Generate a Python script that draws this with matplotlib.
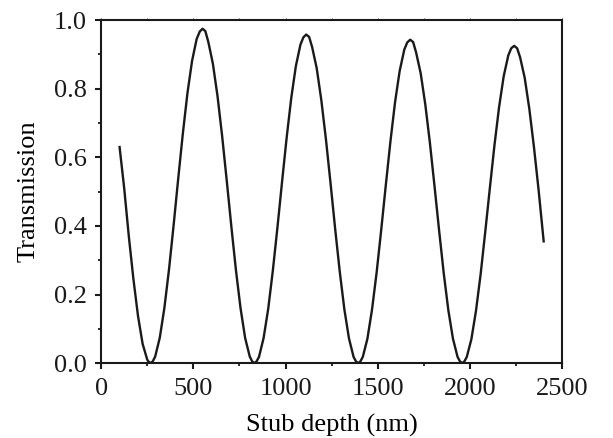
import matplotlib
matplotlib.use("Agg")
import matplotlib.pyplot as plt
from matplotlib.ticker import MultipleLocator

# stub depth (nm) and transmission
depth = [100, 125, 150, 175, 200, 225, 250, 256, 268, 280,
         293, 318, 343, 368, 393, 418, 443, 468, 493, 518, 535, 550, 565,
         581, 606, 631, 656, 681, 706, 731, 756, 781, 806, 819, 831, 843,
         856, 881, 906, 931, 956, 981, 1006, 1031, 1056, 1081, 1097, 1112, 1128,
         1144, 1169, 1194, 1219, 1244, 1269, 1294, 1319, 1344, 1369, 1382, 1394, 1406,
         1419, 1444, 1469, 1494, 1519, 1544, 1569, 1594, 1619, 1644, 1660, 1676, 1692,
         1708, 1733, 1758, 1783, 1808, 1833, 1858, 1883, 1908, 1933, 1946, 1958, 1970,
         1983, 2008, 2033, 2058, 2083, 2108, 2133, 2158, 2183, 2208, 2224, 2240, 2256,
         2272, 2297, 2322, 2347, 2372, 2400]
trans = [0.630, 0.510, 0.370, 0.245, 0.137, 0.056, 0.010, 0.005, 0.000, 0.005,
         0.019, 0.074, 0.161, 0.273, 0.402, 0.538, 0.669, 0.787, 0.881, 0.945, 0.967, 0.975, 0.968,
         0.937, 0.873, 0.779, 0.663, 0.533, 0.399, 0.271, 0.160, 0.073, 0.019, 0.005, 0.000, 0.005,
         0.018, 0.073, 0.158, 0.269, 0.395, 0.528, 0.657, 0.773, 0.866, 0.929, 0.950, 0.958, 0.951,
         0.922, 0.860, 0.767, 0.653, 0.525, 0.392, 0.267, 0.157, 0.072, 0.018, 0.005, 0.000, 0.005,
         0.018, 0.071, 0.156, 0.264, 0.389, 0.520, 0.647, 0.761, 0.852, 0.914, 0.935, 0.943, 0.936,
         0.906, 0.845, 0.754, 0.642, 0.516, 0.386, 0.262, 0.154, 0.071, 0.018, 0.005, 0.000, 0.005,
         0.018, 0.070, 0.153, 0.259, 0.382, 0.510, 0.635, 0.746, 0.836, 0.897, 0.918, 0.925, 0.918,
         0.892, 0.832, 0.742, 0.631, 0.507, 0.355]

plt.rcParams['font.family'] = ['Liberation Serif', 'DejaVu Serif']

fig = plt.figure(figsize=(6.13, 4.38), dpi=100)
ax = fig.add_axes([0.165, 0.171, 0.752, 0.783])

ax.plot(depth, trans, color='#1a1a1a', lw=1.7, solid_joinstyle='round')

ax.set_xlim(0, 2500)
ax.set_ylim(0, 1.0)
ax.xaxis.set_major_locator(MultipleLocator(500))
ax.xaxis.set_minor_locator(MultipleLocator(250))
ax.yaxis.set_major_locator(MultipleLocator(0.2))
ax.yaxis.set_minor_locator(MultipleLocator(0.1))
ax.yaxis.set_major_formatter(plt.FormatStrFormatter('%.1f'))

for s in ax.spines.values():
    s.set_linewidth(1.5)
    s.set_color('#1a1a1a')

ax.tick_params(which='major', direction='out', length=4, width=1.5,
               labelsize=19, colors='#1a1a1a', pad=6.5)
ax.tick_params(which='minor', direction='out', length=2.5, width=1.3, colors='#1a1a1a')
# tiny marks along the top spine only
ax.tick_params(which='both', axis='x', top=True)
for t in ax.xaxis.get_ticklines(minor=False)[1::2] + ax.xaxis.get_ticklines(minor=True)[1::2]:
    t.set_markersize(1.2)
    t.set_markeredgewidth(0.6)

ax.set_xlabel('Stub depth (nm)', fontsize=19, labelpad=10)
ax.set_ylabel('Transmission', fontsize=19, labelpad=10)

fig.savefig('out.png', dpi=100)
